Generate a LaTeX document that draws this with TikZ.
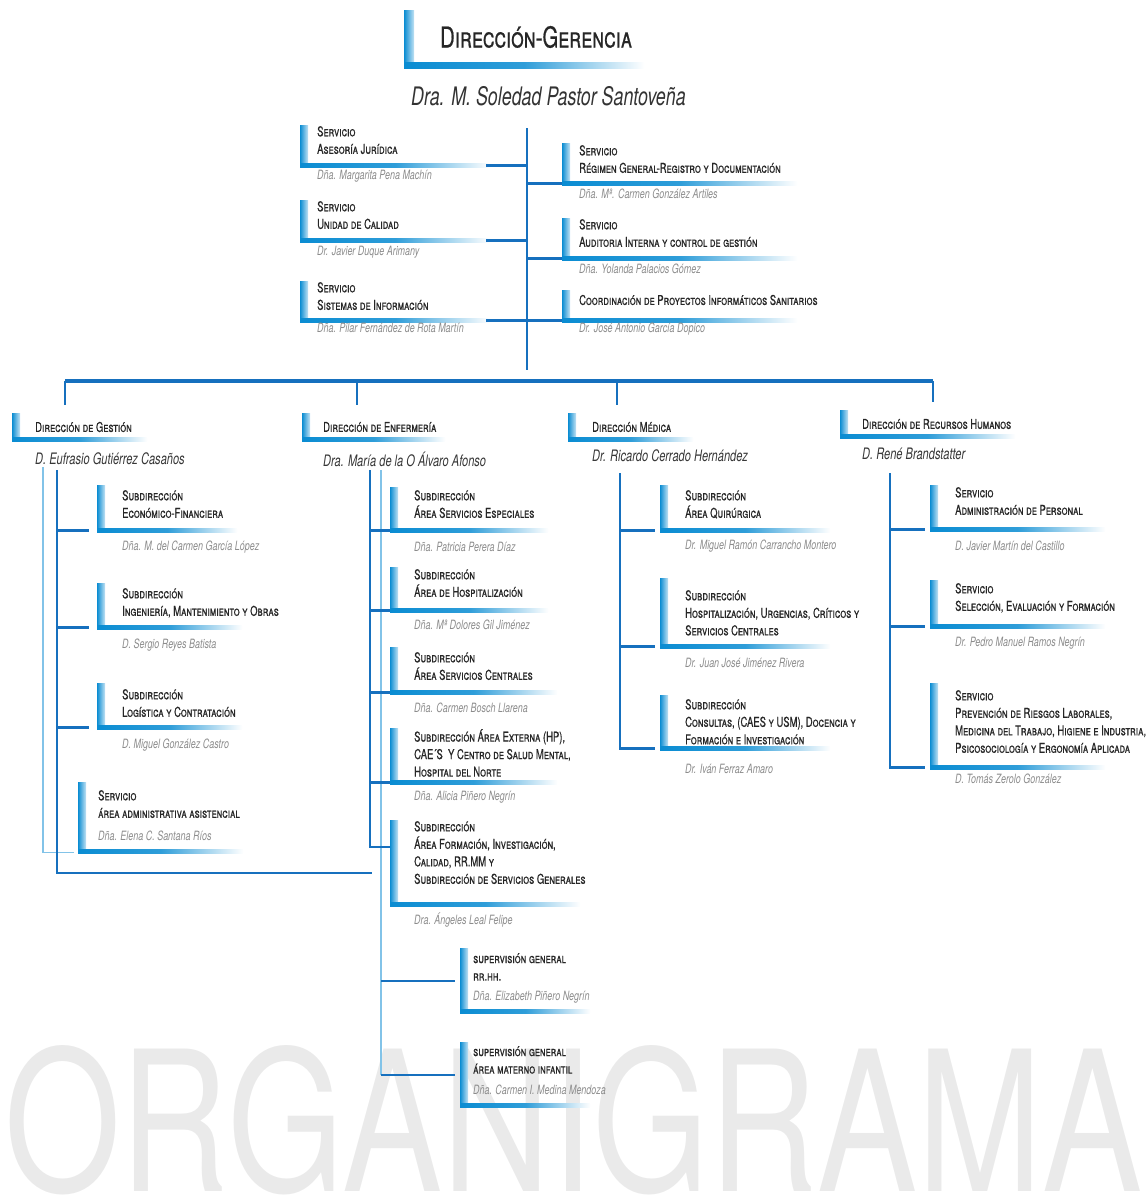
\documentclass[tikz,border=0pt]{standalone}
\usepackage{fontspec}
\setmainfont{TeX Gyre Heros}[FakeStretch=0.7]
\newfontfamily\ttlfont{TeX Gyre Heros}[FakeStretch=0.7,FakeBold=0.6]
\usepackage{graphicx}
\usetikzlibrary{positioning,calc}

\definecolor{cblue}{RGB}{10,140,210}
\definecolor{lnblue}{RGB}{22,112,190}
\definecolor{ltblue}{RGB}{130,195,232}
\definecolor{whogray}{RGB}{140,140,140}
\definecolor{dirgray}{RGB}{55,55,55}
\definecolor{wmgray}{RGB}{234,234,234}

\newcommand\bracket[6][8]{%
  \node[brk, minimum width=#5, minimum height=#6] (#2) at (#3,#4) {};
  \shade[left color=cblue, right color=cblue!25] (#2.north west) rectangle ([xshift=#1]#2.south west);
  \shade[left color=cblue, right color=white, middle color=cblue!85] ([yshift=#1*0.55]#2.south west) rectangle (#2.south east);
}

\begin{document}
\begin{tikzpicture}[x=1pt,y=-1pt,
  ttl/.style={font=\ttlfont\fontsize{13.5}{17.5}\selectfont\scshape, text=black!85, align=left, anchor=north west, inner sep=0pt},
  who/.style={font=\fontsize{12.8}{14}\selectfont\itshape, text=whogray, anchor=west, inner sep=0pt},
  dirn/.style={font=\fontsize{15.8}{17}\selectfont\itshape, text=dirgray, anchor=west, inner sep=0pt},
  brk/.style={inner sep=0pt, anchor=north west},
  dk/.style={draw=lnblue, line width=2.6pt},
  lt/.style={draw=ltblue, line width=1.8pt}]
\useasboundingbox (0,0) rectangle (1146,1197);
\clip (0,0) rectangle (1146,1197);
\node[anchor=north west, inner sep=0pt, text=wmgray] (wm) at (4,1045) {\resizebox{1138pt}{146pt}{ORGANIGRAMA}};

\bracket[10]{dg}{404}{10}{240}{58}
\node[ttl, anchor=west, font=\ttlfont\fontsize{28.8}{30}\selectfont\scshape] (dgt) at (440,37) {Dirección-Gerencia};
\node[dirn, font=\fontsize{25.5}{27}\selectfont\itshape, text=black!80] (dgn) at (411,96) {Dra. M. Soledad Pastor Santoveña};

\bracket{jur}{300}{125}{190}{42}
\node[ttl] (jurt) at (317,126) {Servicio\\Asesoría Jurídica};
\node[who] (jurn) at (317,176) {Dña. Margarita Pena Machín};
\bracket{cal}{300}{200}{190}{42}
\node[ttl] (calt) at (317,201) {Servicio\\Unidad de Calidad};
\node[who] (caln) at (317,252) {Dr. Javier Duque Arimany};
\bracket{sis}{300}{281}{190}{41}
\node[ttl] (sist) at (317,282) {Servicio\\Sistemas de Información};
\node[who] (sisn) at (317,328) {Dña. Pilar Fernández de Rota Martín};

\bracket{reg}{562}{143}{235}{42}
\node[ttl] (regt) at (579,145) {Servicio\\Régimen General-Registro y Documentación};
\node[who] (regn) at (579,194) {Dña. Mª. Carmen González Artiles};
\bracket{aud}{562}{218}{235}{42}
\node[ttl] (audt) at (579,219) {Servicio\\Auditoria Interna y control de gestión};
\node[who] (audn) at (579,269) {Dña. Yolanda Palacios Gómez};
\bracket{coo}{562}{290}{235}{32}
\node[ttl, anchor=west] (coot) at (579,300) {Coordinación de Proyectos Informáticos Sanitarios};
\node[who] (coon) at (579,329) {Dr. José Antonio García Dopico};

\coordinate (t0) at (527,128);
\coordinate (t1) at (527,370);
\draw[dk] (t0) -- (t1);
\foreach \b in {jur,cal,sis} \draw[dk] (t0) |- ([xshift=-4pt,yshift=2pt]\b.south east);
\foreach \b in {reg,aud,coo} \draw[dk] (t0) |- ([yshift=2pt]\b.south west);

\bracket{gest}{12}{413}{135}{28}
\node[ttl, anchor=west] (gestt) at (35,427) {Dirección de Gestión};
\node[dirn] (gestn) at (35,459) {D. Eufrasio Gutiérrez Casaños};
\bracket{enf}{302}{413}{143}{28}
\node[ttl, anchor=west] (enft) at (323,427) {Dirección de Enfermería};
\node[dirn] (enfn) at (323,459) {Dra. María de la O Álvaro Afonso};
\bracket{med}{568}{413}{125}{28}
\node[ttl, anchor=west] (medt) at (592,427) {Dirección Médica};
\node[dirn] (medn) at (592,456) {Dr. Ricardo Cerrado Hernández};
\bracket{rrhh}{840}{410}{175}{28}
\node[ttl, anchor=west] (rrhht) at (862,424) {Dirección de Recursos Humanos};
\node[dirn] (rrhhn) at (862,454) {D. René Brandstatter};

\coordinate (h0) at (65,381);
\coordinate (h1) at (933,381);
\draw[dk, line width=4pt] (h0) -- (h1);
\foreach \x/\n in {65/gest,357/enf,617/med,933/rrhh} {
  \coordinate (d\n) at (\x,381);
  \draw[dk, shorten >=8pt] (d\n) -- (d\n |- \n.north);
}

\bracket{eco}{97}{485}{140}{47}
\node[ttl] (ecot) at (122,490) {Subdirección\\Económico-Financiera};
\node[who] (econ) at (122,547) {Dña. M. del Carmen García López};
\bracket{ing}{97}{583}{145}{46}
\node[ttl] (ingt) at (122,588) {Subdirección\\Ingeniería, Mantenimiento y Obras};
\node[who] (ingn) at (122,645) {D. Sergio Reyes Batista};
\bracket{log}{97}{683}{145}{46}
\node[ttl] (logt) at (122,689) {Subdirección\\Logística y Contratación};
\node[who] (logn) at (122,745) {D. Miguel González Castro};
\bracket{adm}{78}{782}{165}{71}
\node[ttl] (admt) at (98,790) {Servicio\\área administrativa asistencial};
\node[who] (admn) at (98,836) {Dña. Elena C. Santana Ríos};

\coordinate (g0) at (57,470);
\coordinate (gl0) at (43,467);
\coordinate (gb) at (372,873);
\draw[lt, shorten >=4pt] (gl0) |- ([yshift=1pt]adm.south west);
\draw[dk] (g0) |- (gb);
\foreach \b in {eco,ing,log} \draw[dk, shorten >=8pt] (g0) |- ([yshift=2pt]\b.south west);

\bracket{esp}{390}{487}{158}{45}
\node[ttl] (espt) at (414,490) {Subdirección\\Área Servicios Especiales};
\node[who] (espn) at (414,547) {Dña. Patricia Perera Díaz};
\bracket{hos}{390}{567}{158}{45}
\node[ttl] (host) at (414,569) {Subdirección\\Área de Hospitalización};
\node[who] (hosn) at (414,625) {Dña. Mª Dolores  Gil Jiménez};
\bracket{cen}{390}{647}{167}{47}
\node[ttl] (cent) at (414,652) {Subdirección\\Área Servicios Centrales};
\node[who] (cenn) at (414,708) {Dña. Carmen Bosch Llarena};
\bracket{ext}{390}{728}{167}{56}
\node[ttl] (extt) at (414,729) {Subdirección Área Externa (HP),\\CAE´S \ Y Centro de Salud Mental,\\Hospital del Norte};
\node[who] (extn) at (414,797) {Dña. Alicia Piñero Negrín};
\bracket{for}{390}{820}{190}{86}
\node[ttl] (fort) at (414,821) {Subdirección\\Área Formación, Investigación,\\Calidad, RR.MM y\\Subdirección de Servicios Generales};
\node[who] (forn) at (414,920) {Dra. Ángeles Leal Felipe};
\bracket{sv1}{460}{948}{130}{65}
\node[ttl] (sv1t) at (473,953) {supervisión general\\rr.hh.};
\node[who] (sv1n) at (473,997) {Dña. Elizabeth Piñero Negrín};
\bracket{sv2}{460}{1042}{130}{65}
\node[ttl] (sv2t) at (473,1046) {supervisión general\\área materno infantil};
\node[who] (sv2n) at (473,1090) {Dña. Carmen I. Medina Mendoza};

\coordinate (e0) at (370,470);
\coordinate (el0) at (381,470);
\draw[lt] (el0) -- (el0 |- sv2.west);
\foreach \b in {esp,hos,cen,ext} \draw[dk] (e0) |- ([yshift=2pt]\b.south west);
\draw[dk] (e0) |- ([yshift=-27pt]for.north west);
\foreach \b in {sv1,sv2} \draw[dk, line width=2pt, shorten >=5pt] (el0 |- \b.west) -- (\b.west);

\bracket{qui}{660}{485}{170}{47}
\node[ttl] (quit) at (685,490) {Subdirección\\Área Quirúrgica};
\node[who] (quin) at (685,546) {Dr. Miguel Ramón Carrancho Montero};
\bracket{hsp}{660}{578}{170}{70}
\node[ttl] (hspt) at (685,590) {Subdirección\\Hospitalización, Urgencias, Críticos y\\Servicios Centrales};
\node[who] (hspn) at (685,663) {Dr. Juan José Jiménez Rivera};
\bracket{con}{660}{695}{170}{55}
\node[ttl] (cont) at (685,699) {Subdirección\\Consultas, (CAES y USM), Docencia y\\Formación e Investigación};
\node[who] (conn) at (685,769) {Dr. Iván Ferraz Amaro};

\coordinate (m0) at (620,473);
\foreach \b in {qui,hsp,con} \draw[dk, shorten >=5pt] (m0) |- ([yshift=2pt]\b.south west);

\bracket{adp}{930}{485}{175}{46}
\node[ttl] (adpt) at (955,487) {Servicio\\Administración de Personal};
\node[who] (adpn) at (955,546) {D. Javier Martín del Castillo};
\bracket{sel}{930}{580}{175}{48}
\node[ttl] (selt) at (955,583) {Servicio\\Selección, Evaluación y Formación};
\node[who] (seln) at (955,643) {Dr. Pedro Manuel Ramos Negrín};
\bracket{pre}{930}{683}{175}{86}
\node[ttl] (pret) at (955,690) {Servicio\\Prevención de Riesgos Laborales,\\Medicina del Trabajo, Higiene e Industria,\\Psicosociología y Ergonomía Aplicada};
\node[who] (pren) at (955,779) {D. Tomás Zerolo González};

\coordinate (r0) at (890,473);
\foreach \b in {adp,sel,pre} \draw[dk, shorten >=5pt] (r0) |- ([yshift=2pt]\b.south west);
\end{tikzpicture}
\end{document}
